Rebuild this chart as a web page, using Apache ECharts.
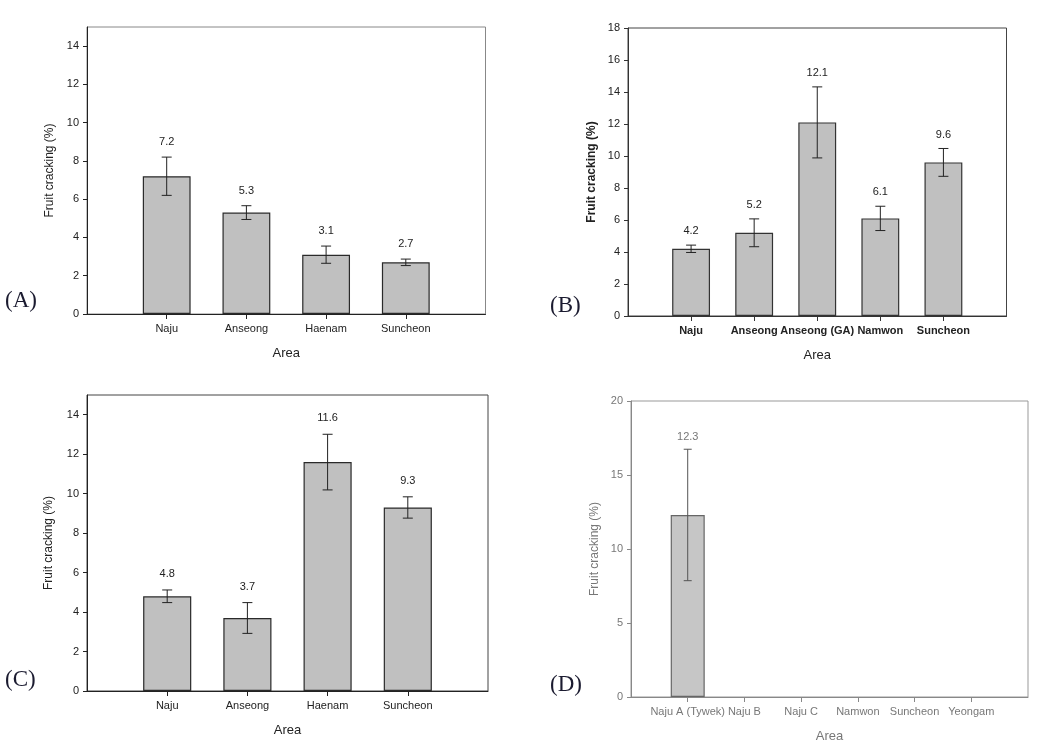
<!DOCTYPE html>
<html>
<head>
<meta charset="utf-8">
<script src="https://cdn.jsdelivr.net/npm/echarts@6/dist/echarts.min.js"></script>
<style>html,body{margin:0;padding:0;background:#fff;}#c{width:1049px;height:748px;}</style>
</head>
<body>
<div id="c"></div>
<script>
// ---- data ----
const catsA = ['Naju', 'Anseong', 'Haenam', 'Suncheon'];
const valsA = [7.2, 5.3, 3.1, 2.7];
const errA = [1.0, 0.36, 0.45, 0.17];

const catsB = ['Naju', 'Anseong', 'Anseong (GA)', 'Namwon', 'Suncheon'];
const valsB = [4.2, 5.2, 12.1, 6.1, 9.6];
const errB = [0.23, 0.87, 2.22, 0.76, 0.87];

const catsC = ['Naju', 'Anseong', 'Haenam', 'Suncheon'];
const valsC = [4.8, 3.7, 11.6, 9.3];
const errC = [0.32, 0.78, 1.41, 0.54];

const catsD = ['Naju A (Tywek)', 'Naju B', 'Naju C', 'Namwon', 'Suncheon', 'Yeongam'];
const valsD = [12.3, null, null, null, null, null];
const errD = [4.44, null, null, null, null, null];

const yTicksA = [0, 2, 4, 6, 8, 10, 12, 14];
const yTicksB = [0, 2, 4, 6, 8, 10, 12, 14, 16, 18];
const yTicksC = [0, 2, 4, 6, 8, 10, 12, 14];
const yTicksD = [0, 5, 10, 15, 20];

const yTitle = 'Fruit cracking (%)';
const xTitle = 'Area';
const letters = ['(A)', '(B)', '(C)', '(D)'];

// ---- panel layout / styles ----
const FONT = '"Liberation Sans", Arial, sans-serif';
const panels = [
  {cats: catsA, vals: valsA, err: errA, ticks: yTicksA, max: 15,
   grid: {left: 87, top: 27, width: 398.5, height: 287},
   axisColor: '#222', frameColor: '#888', text: '#222', bold: false, yBold: false,
   fill: '#c0c0c0', border: '#2a2a2a', cap: 5, lblOff: 15, yGap: 31, letter: {x: 5, y: 303}},
  {cats: catsB, vals: valsB, err: errB, ticks: yTicksB, max: 18,
   grid: {left: 628, top: 28, width: 378.5, height: 288},
   axisColor: '#333', frameColor: '#444', text: '#222', bold: true, yBold: true,
   fill: '#c0c0c0', border: '#333', cap: 5, lblOff: 14, yGap: 30, letter: {x: 550, y: 308}},
  {cats: catsC, vals: valsC, err: errC, ticks: yTicksC, max: 15,
   grid: {left: 87, top: 395, width: 401, height: 296},
   axisColor: '#222', frameColor: '#444', text: '#222', bold: false, yBold: false,
   fill: '#c0c0c0', border: '#2a2a2a', cap: 5, lblOff: 16, yGap: 32, letter: {x: 5, y: 682}},
  {cats: catsD, vals: valsD, err: errD, ticks: yTicksD, max: 20,
   grid: {left: 631, top: 401, width: 397, height: 296},
   axisColor: '#888', frameColor: '#999', text: '#777', bold: false, yBold: false,
   fill: '#c6c6c6', border: '#666', cap: 4, lblOff: 12, yGap: 30, letter: {x: 550, y: 687}}
];

const option = {
  animation: false,
  backgroundColor: '#fff',
  textStyle: {fontFamily: FONT},
  grid: [], xAxis: [], yAxis: [], series: [], graphic: []
};

panels.forEach((p, k) => {
  const padded = [''].concat(p.cats, ['']);
  option.grid.push(Object.assign({show: true, borderColor: p.frameColor, borderWidth: 1, backgroundColor: 'transparent'}, p.grid));
  option.xAxis.push({
    gridIndex: k, type: 'category', data: padded, boundaryGap: false,
    axisLine: {show: true, lineStyle: {color: p.axisColor, width: 1}},
    axisTick: {show: true, length: 5, lineStyle: {color: p.axisColor},
      interval: (i, v) => v !== ''},
    axisLabel: {interval: 0, margin: 9, fontSize: 11, color: p.text, fontFamily: FONT,
      fontWeight: p.bold ? 'bold' : 'normal'},
    splitLine: {show: false},
    name: xTitle, nameLocation: 'middle', nameGap: 33,
    nameTextStyle: {fontSize: 13, color: p.text, fontFamily: FONT}
  });
  option.yAxis.push({
    gridIndex: k, type: 'value', min: 0, max: p.max,
    axisLine: {show: true, lineStyle: {color: p.axisColor, width: 1}},
    axisTick: {show: true, length: 4, inside: false, customValues: p.ticks, lineStyle: {color: p.axisColor}},
    axisLabel: {margin: 8, fontSize: 11, color: p.text, fontFamily: FONT, customValues: p.ticks},
    splitLine: {show: false},
    name: yTitle, nameLocation: 'middle', nameGap: p.yGap,
    nameTextStyle: {fontSize: 12, color: p.text, fontFamily: FONT, fontWeight: p.yBold ? 'bold' : 'normal'}
  });
  option.series.push({
    type: 'bar', xAxisIndex: k, yAxisIndex: k,
    data: [null].concat(p.vals, [null]),
    barWidth: '60%',
    itemStyle: {color: p.fill, borderColor: p.border, borderWidth: 1.2}
  });
  const edata = p.vals.map((v, i) => v == null ? null : [i + 1, v, p.err[i]]).filter(d => d);
  option.series.push({
    type: 'custom', xAxisIndex: k, yAxisIndex: k, z: 5,
    encode: {x: 0, y: 1},
    data: edata,
    renderItem: (params, api) => {
      const x = api.value(0), v = api.value(1), e = api.value(2);
      const t = api.coord([x, v + e]);
      const b = api.coord([x, v - e]);
      const c = p.cap;
      const st = {stroke: p.axisColor === '#888' ? '#555' : '#222', lineWidth: 1};
      return {type: 'group', children: [
        {type: 'line', shape: {x1: t[0], y1: t[1], x2: b[0], y2: b[1]}, style: st},
        {type: 'line', shape: {x1: t[0] - c, y1: t[1], x2: t[0] + c, y2: t[1]}, style: st},
        {type: 'line', shape: {x1: b[0] - c, y1: b[1], x2: b[0] + c, y2: b[1]}, style: st},
        {type: 'text', x: t[0], y: t[1] - p.lblOff,
          style: {text: v.toFixed(1), fontSize: 11, fontFamily: FONT, fill: p.text,
            textAlign: 'center', textVerticalAlign: 'middle'}}
      ]};
    }
  });
  option.graphic.push({
    type: 'text', left: p.letter.x, top: p.letter.y - 14,
    style: {text: letters[k], fontSize: 23, fontFamily: '"Liberation Serif", "Times New Roman", serif',
      fill: '#1b1b30'}
  });
});

const chart = echarts.init(document.getElementById('c'), null, {renderer: 'canvas'});
chart.setOption(option);
</script>
</body>
</html>
